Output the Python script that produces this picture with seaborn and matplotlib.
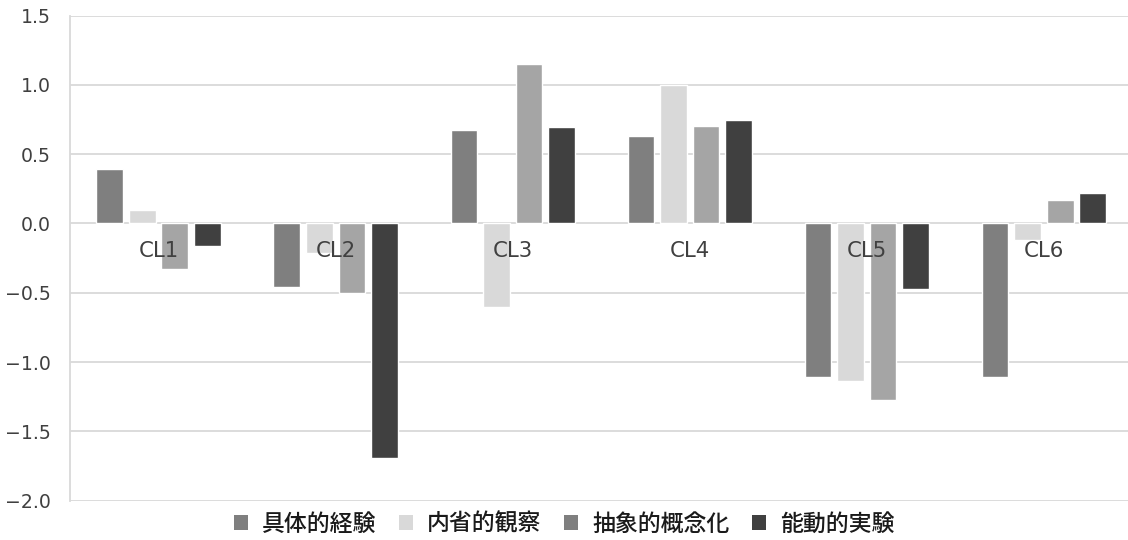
import matplotlib
matplotlib.use("Agg")
import matplotlib.pyplot as plt
from matplotlib.patches import Patch
import pandas as pd
import seaborn as sns

# Cluster mean scores for the four learning-style modes
clusters = ["CL1", "CL2", "CL3", "CL4", "CL5", "CL6"]
modes = ["具体的経験", "内省的観察", "抽象的概念化", "能動的実験"]
concrete_experience = [0.39, -0.46, 0.675, 0.635, -1.11, -1.11]
reflective_observation = [0.10, -0.21, -0.60, 1.00, -1.14, -0.12]
abstract_conceptualization = [-0.33, -0.50, 1.15, 0.70, -1.275, 0.17]
active_experimentation = [-0.16, -1.69, 0.695, 0.75, -0.47, 0.22]

y_ticks = [-2.0, -1.5, -1.0, -0.5, 0.0, 0.5, 1.0, 1.5]

bar_colors = ["#7f7f7f", "#d9d9d9", "#a5a5a5", "#404040"]
legend_colors = ["#7f7f7f", "#d9d9d9", "#7f7f7f", "#404040"]
grid_color = "#d9d9d9"
text_color = "#404040"

series = [concrete_experience, reflective_observation,
          abstract_conceptualization, active_experimentation]
rows = []
for mode, values in zip(modes, series):
    for cl, v in zip(clusters, values):
        rows.append({"cluster": cl, "mode": mode, "value": v})
df = pd.DataFrame(rows)

sns.set_theme(style="white")
plt.rcParams["font.family"] = ["DejaVu Sans", "Noto Sans CJK JP"]

fig = plt.figure(figsize=(11.28, 5.40), dpi=100)
ax = fig.add_axes([0.062, 0.073, 0.942, 0.898])

sns.barplot(data=df, x="cluster", y="value", hue="mode", order=clusters,
            hue_order=modes, palette=bar_colors, width=0.735, gap=0.18,
            saturation=1, errorbar=None, legend=False, ax=ax, zorder=3)

ax.set_ylim(-2.0, 1.5)
ax.set_yticks(y_ticks)
ax.set_yticklabels([f"{t:.1f}".replace("-", "\u2212") for t in y_ticks])
ax.set_xlim(-0.5, len(clusters) - 0.5)
ax.set_xticks([])
ax.set_xlabel("")
ax.set_ylabel("")
ax.yaxis.grid(True, color=grid_color, linewidth=1.3, zorder=0)
ax.set_axisbelow(True)
for side in ["top", "right", "bottom"]:
    ax.spines[side].set_visible(False)
ax.spines["left"].set_color(grid_color)
ax.spines["left"].set_linewidth(1.3)
ax.tick_params(axis="y", length=0, pad=14, labelsize=13.6, labelcolor=text_color)

# Cluster names sit just under the zero line
for i, cl in enumerate(clusters):
    ax.annotate(cl, xy=(i, 0), xytext=(0, -20), textcoords="offset points",
                ha="center", va="center", fontsize=15.3, color=text_color,
                zorder=5)

handles = [Patch(facecolor=c, edgecolor="none") for c in legend_colors]
fig.legend(handles, modes, loc="center", bbox_to_anchor=(0.5, 0.029),
           ncol=4, frameon=False,
           prop={"family": ["Noto Sans CJK JP"], "size": 16.5, "weight": "medium"},
           handlelength=0.62, handleheight=0.62, handletextpad=0.6,
           columnspacing=1.0, labelcolor="#1a1a1a")

fig.savefig("out.png", dpi=100)
